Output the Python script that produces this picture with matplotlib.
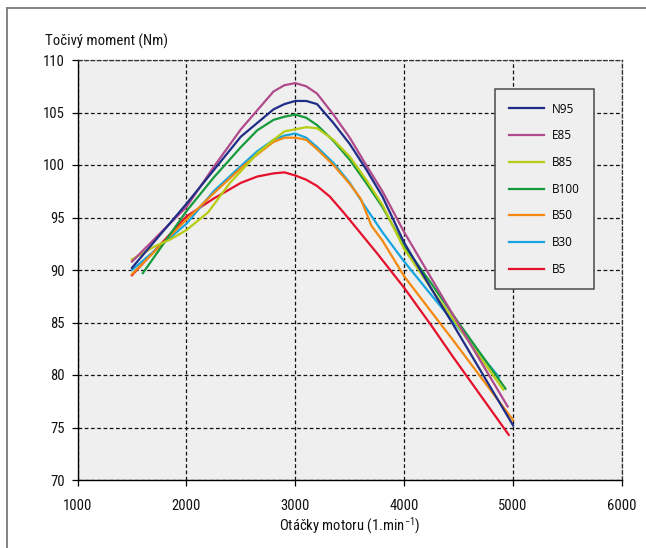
import matplotlib
matplotlib.use("Agg")
import matplotlib.pyplot as plt
from matplotlib import font_manager as fm
from matplotlib.lines import Line2D

# ---- data: engine speed (1/min) and torque (Nm) per fuel ----
series_names = ["N95", "E85", "B85", "B100", "B50", "B30", "B5"]
series_colors = ["#1f2d86", "#b04a8c", "#b8cc14", "#179a3c", "#f5890f", "#17a6e0", "#e5102b"]

rpm_n95 = [1500, 2000, 2250, 2500, 2650, 2800, 2900, 3000, 3100, 3200, 3350, 3500, 3650, 3800, 4000, 4250, 4450, 5000]
tq_n95 = [90.2, 96.3, 99.5, 102.7, 104.0, 105.3, 105.8, 106.1, 106.1, 105.8, 104.0, 102.0, 99.6, 97.0, 92.6, 88.2, 84.8, 75.2]

rpm_e85 = [1500, 2000, 2250, 2500, 2650, 2800, 2900, 3000, 3100, 3200, 3350, 3500, 3650, 3800, 4000, 4250, 4450, 4950]
tq_e85 = [90.8, 96.0, 99.8, 103.4, 105.2, 107.0, 107.6, 107.8, 107.5, 106.8, 104.8, 102.6, 100.0, 97.5, 93.6, 89.2, 85.7, 77.0]

rpm_b85 = [1500, 1700, 1850, 2000, 2200, 2400, 2500, 2650, 2800, 2900, 3000, 3100, 3200, 3350, 3500, 3650, 3800, 4000, 4250, 4450, 4910]
tq_b85 = [91.0, 92.2, 92.9, 93.8, 95.5, 98.3, 99.4, 101.1, 102.4, 103.2, 103.4, 103.6, 103.5, 102.4, 100.8, 98.6, 96.2, 92.0, 88.2, 85.3, 78.6]

rpm_b100 = [1600, 2000, 2250, 2500, 2650, 2800, 2900, 3000, 3100, 3200, 3350, 3500, 3650, 3800, 4000, 4250, 4450, 4930]
tq_b100 = [89.7, 95.6, 98.8, 101.7, 103.3, 104.3, 104.6, 104.8, 104.5, 103.8, 102.3, 100.5, 98.3, 96.0, 92.3, 88.7, 85.7, 78.7]

rpm_b50 = [1500, 2000, 2250, 2500, 2650, 2800, 2900, 3000, 3100, 3200, 3350, 3500, 3600, 3700, 3800, 4000, 4250, 4450, 5000]
tq_b50 = [89.6, 94.8, 97.3, 99.7, 101.0, 102.2, 102.6, 102.6, 102.4, 101.5, 100.0, 98.2, 96.8, 94.2, 92.8, 89.4, 86.0, 83.3, 75.7]

rpm_b30 = [1500, 2000, 2250, 2500, 2650, 2800, 2900, 3000, 3100, 3200, 3350, 3500, 3650, 3800, 4000, 4250, 4450, 4870]
tq_b30 = [90.0, 94.4, 97.5, 99.9, 101.3, 102.4, 102.8, 103.0, 102.6, 101.7, 100.2, 98.3, 95.9, 93.6, 90.8, 87.6, 85.1, 79.8]

rpm_b5 = [1500, 2000, 2250, 2500, 2650, 2800, 2900, 3000, 3100, 3200, 3316, 3450, 3600, 3750, 4000, 4250, 4450, 4960]
tq_b5 = [89.5, 95.1, 96.8, 98.3, 98.9, 99.2, 99.3, 99.0, 98.6, 98.0, 97.0, 95.4, 93.5, 91.6, 88.3, 84.7, 81.7, 74.3]

x_ticks = [1000, 2000, 3000, 4000, 5000, 6000]
y_ticks = [70, 75, 80, 85, 90, 95, 100, 105, 110]

title_text = "Točivý moment (Nm)"
xlabel_text = "Otáčky motoru (1.min$^{-1}$)"

# ---- fonts ----
available = {f.name for f in fm.fontManager.ttflist}
if "Liberation Sans Narrow" in available:
    axis_font = "Liberation Sans Narrow"
elif "Roboto Condensed" in available:
    axis_font = "Roboto Condensed"
else:
    axis_font = "Liberation Sans"
legend_font = "Open Sans" if "Open Sans" in available else "DejaVu Sans"

plt.rcParams["font.family"] = [axis_font, "DejaVu Sans"]
plt.rcParams["mathtext.fontset"] = "custom"
plt.rcParams["mathtext.rm"] = axis_font
plt.rcParams["mathtext.it"] = axis_font
plt.rcParams["mathtext.bf"] = axis_font

W, H = 646, 548
fig = plt.figure(figsize=(W / 100, H / 100), dpi=100, facecolor="white")

ax_left, ax_right, ax_top, ax_bottom = 77.5, 622, 60, 480
ax = fig.add_axes([ax_left / W, 1 - ax_bottom / H, (ax_right - ax_left) / W, (ax_bottom - ax_top) / H])
ax.set_facecolor("#eeefee")

series = [
    (rpm_n95, tq_n95), (rpm_e85, tq_e85), (rpm_b85, tq_b85), (rpm_b100, tq_b100),
    (rpm_b50, tq_b50), (rpm_b30, tq_b30), (rpm_b5, tq_b5),
]
# draw from the last legend entry up so N95 sits on top
for (rpm, tq), name, color in list(zip(series, series_names, series_colors))[::-1]:
    ax.plot(rpm, tq, color=color, lw=1.6, label=name, solid_joinstyle="round", zorder=3)

ax.set_xlim(1000, 6000)
ax.set_ylim(70, 110)
ax.set_xticks(x_ticks)
ax.set_yticks(y_ticks)
ax.tick_params(axis="both", direction="out", length=4, width=0.9, color="black",
               labelsize=10.5, labelcolor="#111111")
ax.tick_params(axis="x", pad=10)
ax.tick_params(axis="y", pad=5)

dash = (0, (3, 2))
ax.grid(True, color="#111111", linestyle=dash, linewidth=0.9, zorder=1)
ax.set_axisbelow(True)
for side in ("left", "bottom"):
    ax.spines[side].set_color("black")
    ax.spines[side].set_linewidth(1.0)
for side in ("top", "right"):
    ax.spines[side].set_color("#333333")
    ax.spines[side].set_linestyle(dash)
    ax.spines[side].set_linewidth(0.9)

ax.set_xlabel(xlabel_text, fontsize=10.5, color="#111111", labelpad=1)
fig.text(45 / W, 1 - 41 / H, title_text, fontsize=10.6, color="#111111", ha="left", va="center")

handles, labels = ax.get_legend_handles_labels()
order = [labels.index(n) for n in series_names]
leg = ax.legend([handles[i] for i in order], [labels[i] for i in order],
                loc="upper left", bbox_to_anchor=((495 - ax_left) / (ax_right - ax_left),
                                                  (ax_bottom - 89) / (ax_bottom - ax_top)),
                borderaxespad=0, frameon=True, fancybox=False, framealpha=1,
                facecolor="#eeefee", edgecolor="#4a4a4a",
                prop={"family": legend_font, "size": 8.5},
                handlelength=3.0, handletextpad=0.7, labelspacing=1.16, borderpad=1.15)
leg.get_frame().set_linewidth(1.1)
for line in leg.get_lines():
    line.set_linewidth(1.6)

# outer frame around the figure
fig.add_artist(Line2D([7 / W, 1], [1 - 8 / H, 1 - 8 / H], transform=fig.transFigure,
                      color="#7a7a7a", lw=1.3))
fig.add_artist(Line2D([7 / W, 7 / W], [0, 1 - 8 / H], transform=fig.transFigure,
                      color="#7a7a7a", lw=1.3))

fig.savefig("out.png", dpi=100, facecolor="white")
